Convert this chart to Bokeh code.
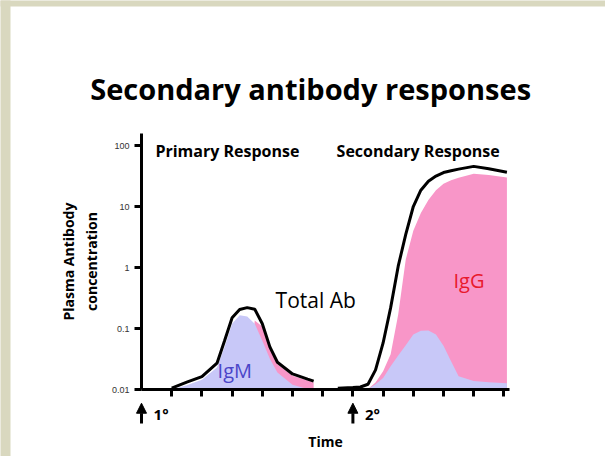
from bokeh.plotting import figure
from bokeh.models import Range1d, FixedTicker, Label, Arrow, NormalHead, BoxAnnotation
from bokeh.embed import file_html
from bokeh.resources import INLINE

# ---- data (time in arbitrary units, concentration on log scale) ----
t_primary = [1.0, 1.5, 2.0, 2.5, 2.75, 3.0, 3.25, 3.5, 3.75, 4.0, 4.25, 4.5, 5.0, 5.5, 5.7]
total_primary = [0.0105, 0.0132, 0.0163, 0.027, 0.063, 0.15, 0.205, 0.22, 0.207, 0.12, 0.05, 0.028, 0.018, 0.0148, 0.0137]
igm_primary = [0.01, 0.0118, 0.0145, 0.023, 0.05, 0.12, 0.165, 0.157, 0.12, 0.063, 0.032, 0.019, 0.012, 0.0102, 0.01]
igg_primary = [0.01, 0.01, 0.01, 0.01, 0.01, 0.01, 0.01, 0.01, 0.135, 0.108, 0.046, 0.026, 0.0168, 0.014, 0.013]

t_secondary = [6.5, 7.0, 7.25, 7.5, 7.75, 8.0, 8.25, 8.5, 8.75, 9.0, 9.25, 9.5, 9.75, 10.0, 10.25, 10.5, 11.0, 11.5, 12.1]
total_secondary = [0.0105, 0.0108, 0.011, 0.0122, 0.021, 0.058, 0.22, 1.05, 3.5, 10.0, 18.5, 26.0, 31.5, 36.0, 38.5, 41.0, 45.5, 41.5, 36.5]
igg_secondary = [0.01, 0.01, 0.01, 0.0102, 0.013, 0.02, 0.038, 0.17, 1.35, 4.0, 7.8, 12.8, 18.5, 23.5, 27.0, 29.5, 34.4, 32.8, 30.0]
igm_secondary = [0.01, 0.01, 0.01, 0.0102, 0.0122, 0.0155, 0.024, 0.036, 0.053, 0.08, 0.092, 0.093, 0.08, 0.052, 0.029, 0.0165, 0.0138, 0.0131, 0.0127]

y_ticks = [0.01, 0.1, 1, 10, 100]
y_tick_labels = ["0.01", "0.1", "1", "10", "100"]
x_ticks = list(range(1, 13))
immunisations = [0, 7]
immunisation_labels = ["1°", "2°"]

PINK = "#f896c8"
LAVENDER = "#c8c8f8"
BEIGE = "#d9d8bf"
FONT = "Open Sans"

# the frame covers the whole figure; axes sit at fixed data locations
p = figure(width=605, height=456,
           x_range=Range1d(-4.669, 15.364), y_range=Range1d(10 ** -3.098, 10 ** 4.377),
           y_axis_type="log", output_backend="svg", toolbar_location=None,
           min_border=0, min_border_left=0, min_border_right=0,
           min_border_top=0, min_border_bottom=0)
p.outline_line_color = None
p.grid.visible = False
p.background_fill_color = "white"
p.border_fill_color = "white"

# beige slide border strips (left and top)
p.add_layout(BoxAnnotation(left=-10, right=-4.338, top=1e6, bottom=1e-5,
                           fill_color=BEIGE, fill_alpha=1, line_color=None, level="underlay"))
p.add_layout(BoxAnnotation(left=-10, right=30, top=1e6, bottom=19010,
                           fill_color=BEIGE, fill_alpha=1, line_color=None, level="underlay"))

base_p = [0.01] * len(t_primary)
base_s = [0.01] * len(t_secondary)

# fills: pink (IgG) under, lavender (IgM) over
p.varea(x=t_primary, y1=base_p, y2=igg_primary, fill_color=PINK)
p.varea(x=t_primary, y1=base_p, y2=igm_primary, fill_color=LAVENDER)
p.varea(x=t_secondary, y1=base_s, y2=igg_secondary, fill_color=PINK)
p.varea(x=t_secondary, y1=base_s, y2=igm_secondary, fill_color=LAVENDER)

# total antibody lines
p.line(t_primary, total_primary, line_color="black", line_width=3)
p.line(t_secondary, total_secondary, line_color="black", line_width=3)

# axes
ax = p.yaxis[0]
ax.fixed_location = 0
ax.bounds = (0.01, 157)
ax.ticker = FixedTicker(ticks=y_ticks, minor_ticks=[])
ax.major_label_overrides = {v: s for v, s in zip(y_ticks, y_tick_labels)}
ax.axis_line_width = 3
ax.axis_line_color = "black"
ax.major_tick_line_width = 3
ax.major_tick_line_color = "black"
ax.major_tick_out = 7
ax.major_tick_in = 0
ax.minor_tick_line_color = None
ax.major_label_text_font = "Liberation Sans"
ax.major_label_text_font_size = "9px"
ax.major_label_text_color = "#333333"
ax.major_label_standoff = 5
ax.axis_label = "Plasma Antibody\nconcentration"
ax.axis_label_text_font = FONT
ax.axis_label_text_font_style = "bold"
ax.axis_label_text_font_size = "14px"
ax.axis_label_text_color = "black"
ax.axis_label_standoff = 8

bx = p.xaxis[0]
bx.fixed_location = 0.01
bx.bounds = (0, 12.19)
bx.ticker = FixedTicker(ticks=x_ticks, minor_ticks=[])
bx.axis_line_width = 3
bx.axis_line_color = "black"
bx.major_tick_line_width = 3
bx.major_tick_line_color = "black"
bx.major_tick_out = 7
bx.major_tick_in = 0
bx.minor_tick_line_color = None
bx.major_label_text_font_size = "10px"
bx.major_label_text_color = None
bx.major_label_standoff = 5
bx.axis_label = "Time"
bx.axis_label_text_font = FONT
bx.axis_label_text_font_style = "bold"
bx.axis_label_text_font_size = "14px"
bx.axis_label_text_color = "black"
bx.axis_label_standoff = 35

# texts
p.add_layout(Label(x=5.6, y=859, text="Secondary antibody responses", text_font=FONT,
                   text_font_style="bold", text_font_size="29px", text_align="center",
                   text_baseline="middle", text_color="black"))
p.add_layout(Label(x=0.46, y=80, text="Primary Response", text_font=FONT, text_font_style="bold",
                   text_font_size="16px", text_baseline="middle", text_color="black"))
p.add_layout(Label(x=6.46, y=80, text="Secondary Response", text_font=FONT, text_font_style="bold",
                   text_font_size="16px", text_baseline="middle", text_color="black"))
p.add_layout(Label(x=4.44, y=0.29, text="Total Ab", text_font=FONT, text_font_size="21px",
                   text_baseline="middle", text_color="black"))
p.add_layout(Label(x=2.52, y=0.0205, text="IgM", text_font=FONT, text_font_size="20px",
                   text_color="#4a45c8", text_baseline="middle"))
p.add_layout(Label(x=10.33, y=0.61, text="IgG", text_font=FONT, text_font_size="20px",
                   text_color="#e8192c", text_baseline="middle"))

# immunisation arrows
for xa, lab in zip(immunisations, immunisation_labels):
    p.add_layout(Arrow(end=NormalHead(size=10, fill_color="black", line_color="black"),
                       x_start=xa, y_start=0.00277, x_end=xa, y_end=0.00596,
                       line_width=3, line_color="black"))
    p.add_layout(Label(x=xa + 0.4, y=0.00404, text=lab, text_font=FONT, text_font_style="bold",
                       text_font_size="15px", text_baseline="middle", text_color="black"))

open("out.html", "w").write(file_html(p, INLINE))
